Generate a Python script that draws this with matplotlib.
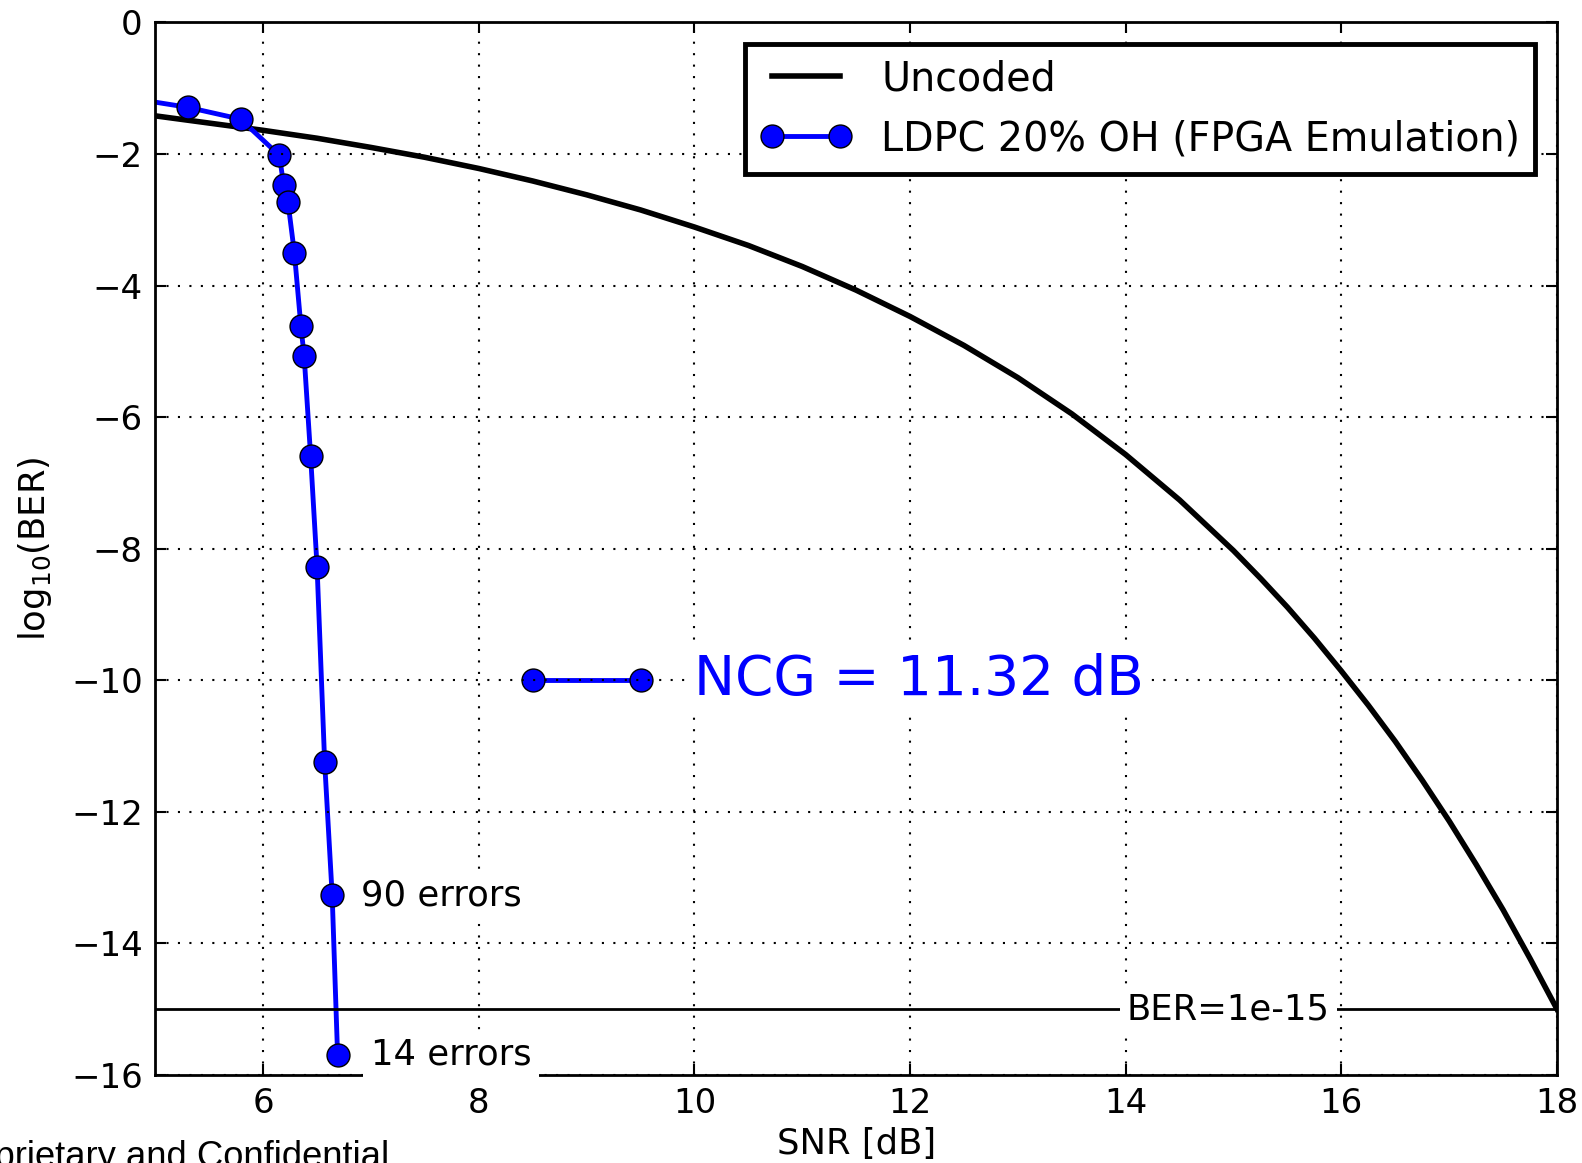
import matplotlib
matplotlib.use('Agg')
import matplotlib.pyplot as plt
import numpy as np

# uncoded reference curve
unc_snr = [5.0, 5.5, 6.0, 6.5, 7.0, 7.5, 8.0, 8.5, 9.0, 9.5, 10.0, 10.5, 11.0, 11.5,
           12.0, 12.5, 13.0, 13.5, 14.0, 14.5, 15.0, 15.25, 15.5, 15.75, 16.0, 16.25,
           16.5, 16.75, 17.0, 17.25, 17.5, 17.75, 18.0]
unc_logber = [-1.42, -1.53, -1.64, -1.76, -1.90, -2.05, -2.22, -2.41, -2.62, -2.85, -3.11,
              -3.39, -3.71, -4.07, -4.47, -4.91, -5.40, -5.95, -6.57, -7.26, -8.03, -8.45,
              -8.89, -9.36, -9.86, -10.38, -10.93, -11.52, -12.14, -12.80, -13.49, -14.23, -15.0]

# LDPC 20% OH measured points
ldpc_snr = [4.8, 5.30, 5.79, 6.15, 6.19, 6.23, 6.29, 6.35, 6.38, 6.44, 6.50, 6.57, 6.64, 6.69]
ldpc_logber = [-1.16, -1.29, -1.47, -2.02, -2.47, -2.73, -3.51, -4.62, -5.07, -6.59,
               -8.28, -11.24, -13.27, -15.69]

ncg_snr = [8.5, 9.5]
ncg_logber = [-10, -10]
ber_target = -15

xticks = [6, 8, 10, 12, 14, 16, 18]
yticks = [0, -2, -4, -6, -8, -10, -12, -14, -16]

fig = plt.figure(figsize=(15.82, 11.63), dpi=100)
ax = fig.add_axes([0.0982, 0.0757, 0.886, 0.905])

ax.plot(unc_snr, unc_logber, color='black', lw=4, label='Uncoded')
ax.plot(ldpc_snr, ldpc_logber, color='blue', lw=3.5, marker='o', markersize=16.5,
        markeredgecolor='black', markeredgewidth=1, label='LDPC 20% OH (FPGA Emulation)')
ax.plot(ncg_snr, ncg_logber, color='blue', lw=3.5, marker='o', markersize=16.5,
        markeredgecolor='black', markeredgewidth=1)
ax.axhline(ber_target, color='black', lw=2)

ax.text(14.95, ber_target, 'BER=1e-15', fontsize=25.5, ha='center', va='center',
        bbox=dict(facecolor='white', edgecolor='none', pad=5))
ax.text(6.91, ldpc_logber[-2], '90 errors', fontsize=25.5, ha='left', va='center',
        bbox=dict(facecolor='white', edgecolor='none', pad=3))
ax.text(7.0, ldpc_logber[-1], '14 errors', fontsize=25.5, ha='left', va='center',
        bbox=dict(facecolor='white', edgecolor='none', pad=5.5))
ax.text(10.0, -10, 'NCG = 11.32 dB', fontsize=39.5, color='blue', ha='left', va='center',
        bbox=dict(facecolor='white', edgecolor='none', pad=5))

ax.set_xlim(5, 18)
ax.set_ylim(-16, 0)
ax.set_xticks(xticks)
ax.set_yticks(yticks)
ax.set_axisbelow(False)
ax.grid(True, color='black', linestyle=(0, (1, 4.5)), lw=1.5)
ax.tick_params(direction='in', length=8, width=1.5, top=True, right=True,
               labelsize=24.5)
ax.tick_params(axis='x', pad=9)
ax.tick_params(axis='y', pad=9)
for s in ax.spines.values():
    s.set_linewidth(2)

ax.set_xlabel('SNR [dB]', fontsize=25.5, labelpad=5)
ax.set_ylabel('log$_{10}$(BER)', fontsize=25.5, labelpad=12)

leg = ax.legend(loc='upper right', fontsize=28.5, numpoints=2, fancybox=False,
                borderaxespad=0.55, borderpad=0.38, handlelength=2.3, handletextpad=0.75,
                labelspacing=0.5, framealpha=1)
leg.get_frame().set_edgecolor('black')
leg.get_frame().set_linewidth(3.5)

fig.text(389 / 1582, -0.0034, 'Proprietary and Confidential', fontsize=26.2,
         family='Liberation Sans', ha='right', va='baseline')

fig.savefig('out.png', dpi=100)
